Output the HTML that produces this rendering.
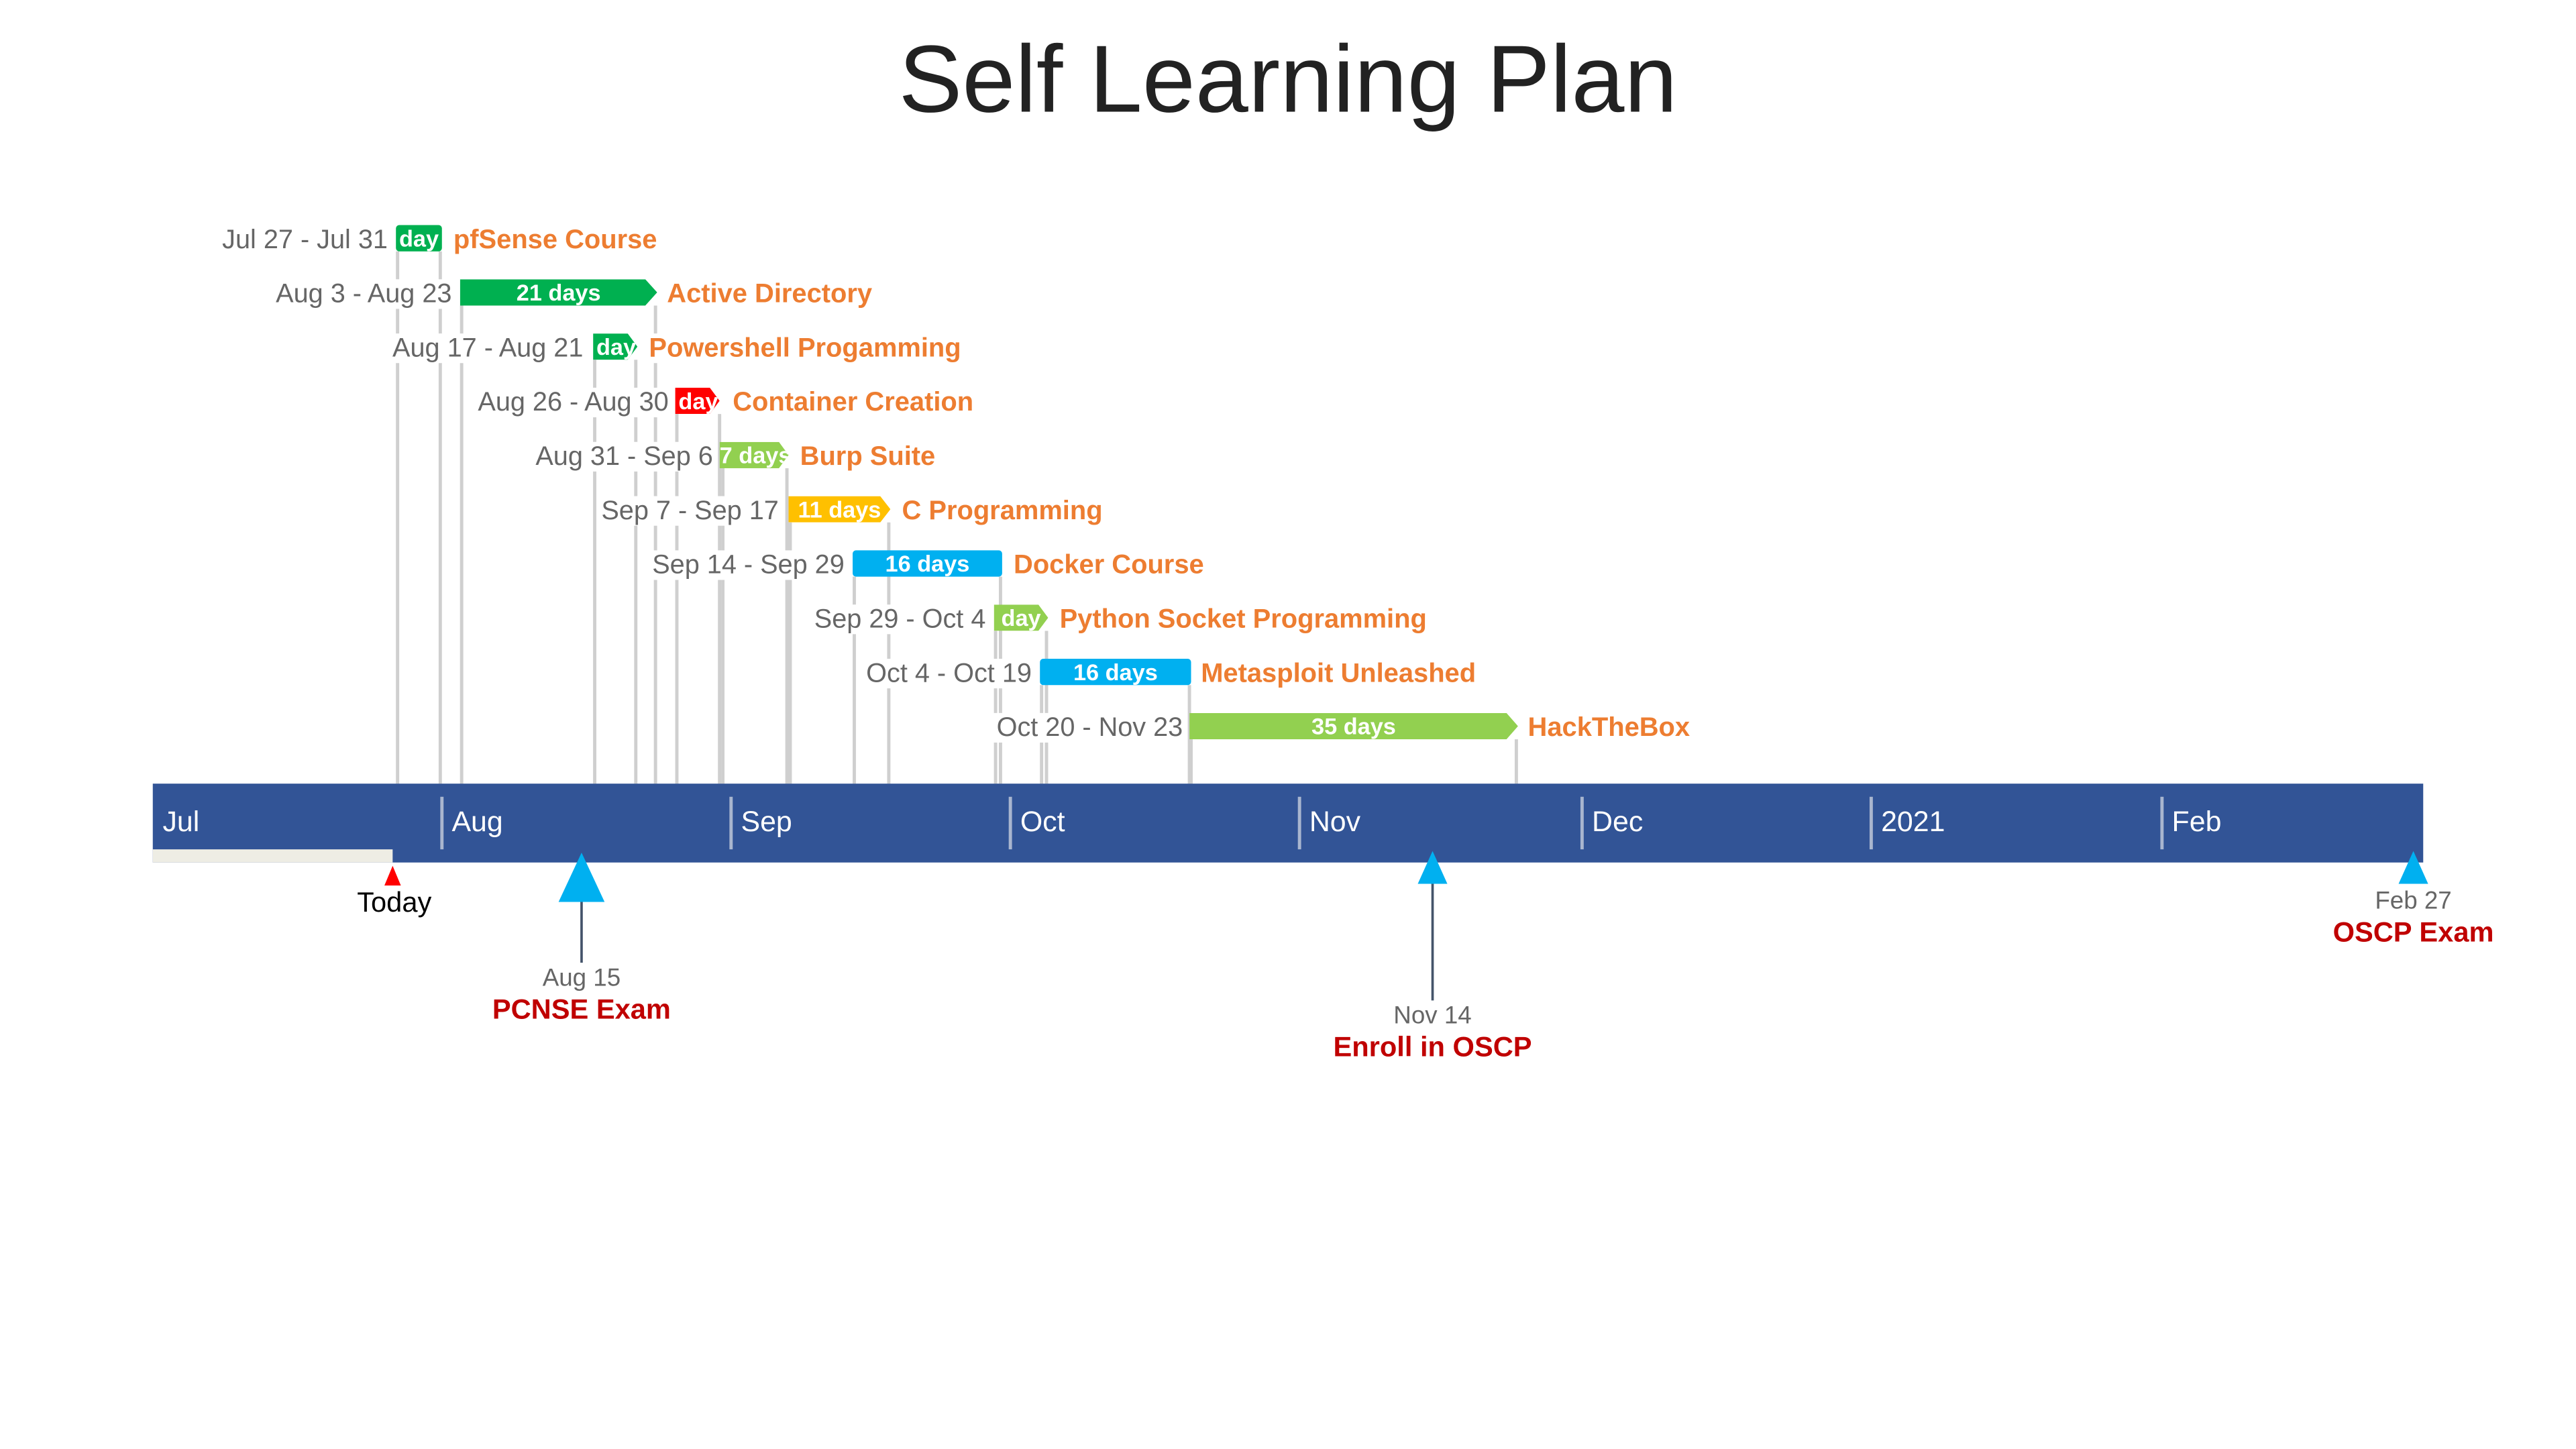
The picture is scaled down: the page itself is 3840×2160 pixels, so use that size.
<!DOCTYPE html>
<html><head><meta charset="utf-8">
<style>
html,body{margin:0;padding:0;background:#fff;width:3840px;height:2160px;overflow:hidden}
#s{position:absolute;left:0;top:0;width:1568px;height:882px;transform:scale(2.44898);transform-origin:0 0;font-family:"Liberation Sans",Arial,sans-serif}
.a{position:absolute}
.t{position:absolute;left:0;width:1568px;text-align:center;top:15px;font-size:58px;color:#222}
.vl{position:absolute;width:2px;background:#cfcfcf}
.d{position:absolute;font-size:16.2px;color:#666;white-space:nowrap;background:#fff;line-height:18px;padding-left:2px;transform:translateX(-100%)}
.n{position:absolute;font-size:16.3px;color:#ED7D31;font-weight:bold;white-space:nowrap;line-height:18px;background:#fff}
.b{position:absolute;height:16px;color:#fff;font-weight:bold;font-size:14px;line-height:16px;text-align:center;overflow:hidden;white-space:nowrap}
.band{position:absolute;left:93px;top:477px;width:1382px;height:48px;background:#325496}
.mt{position:absolute;top:485px;width:2px;height:32px;background:#a9b6cf}
.ml{position:absolute;top:490px;font-size:17.5px;color:#fff}
.md{position:absolute;font-size:15px;color:#666;text-align:center;width:200px;transform:translateX(-50%)}
.mn{position:absolute;font-size:17px;color:#C00000;font-weight:bold;text-align:center;width:300px;transform:translateX(-50%)}
</style></head><body><div id="s">
<div class="t">Self Learning Plan</div>

<div class="vl" style="left:241px;top:153px;height:324px"></div>
<div class="vl" style="left:267px;top:153px;height:324px"></div>
<div class="vl" style="left:280px;top:186px;height:291px"></div>
<div class="vl" style="left:398px;top:186px;height:291px"></div>
<div class="vl" style="left:361px;top:219px;height:258px"></div>
<div class="vl" style="left:386px;top:219px;height:258px"></div>
<div class="vl" style="left:411px;top:252px;height:225px"></div>
<div class="vl" style="left:437px;top:252px;height:225px"></div>
<div class="vl" style="left:439px;top:285px;height:192px"></div>
<div class="vl" style="left:478px;top:285px;height:192px"></div>
<div class="vl" style="left:480px;top:318px;height:159px"></div>
<div class="vl" style="left:540px;top:318px;height:159px"></div>
<div class="vl" style="left:519px;top:351px;height:126px"></div>
<div class="vl" style="left:608px;top:351px;height:126px"></div>
<div class="vl" style="left:605px;top:384px;height:93px"></div>
<div class="vl" style="left:636px;top:384px;height:93px"></div>
<div class="vl" style="left:633px;top:417px;height:60px"></div>
<div class="vl" style="left:723px;top:417px;height:60px"></div>
<div class="vl" style="left:724px;top:450px;height:27px"></div>
<div class="vl" style="left:922px;top:450px;height:27px"></div>

<div class="d" style="left:236px;top:137px">Jul 27 - Jul 31</div>
<div class="b" style="left:241px;top:137px;width:28px;background:#00B050;border-radius:2px">day</div>
<div class="n" style="left:276px;top:137px">pfSense Course</div>

<div class="d" style="left:275px;top:170px">Aug 3 - Aug 23</div>
<div class="b" style="left:280px;top:170px;width:120px;background:#00B050;clip-path:polygon(0 0,94% 0,100% 50%,94% 100%,0 100%)">21 days</div>
<div class="n" style="left:406px;top:170px">Active Directory</div>

<div class="d" style="left:355px;top:203px">Aug 17 - Aug 21</div>
<div class="b" style="left:361px;top:203px;width:27px;background:#00B050;clip-path:polygon(0 0,78% 0,100% 50%,78% 100%,0 100%);text-align:left;padding-left:2px;box-sizing:border-box">day</div>
<div class="n" style="left:395px;top:203px">Powershell Progamming</div>

<div class="d" style="left:407px;top:236px">Aug 26 - Aug 30</div>
<div class="b" style="left:411px;top:236px;width:27px;background:#FF0000;clip-path:polygon(0 0,78% 0,100% 50%,78% 100%,0 100%);text-align:left;padding-left:2px;box-sizing:border-box">day</div>
<div class="n" style="left:446px;top:236px">Container Creation</div>

<div class="d" style="left:434px;top:269px">Aug 31 - Sep 6</div>
<div class="b" style="left:438px;top:269px;width:42px;background:#92D050;clip-path:polygon(0 0,86% 0,100% 50%,86% 100%,0 100%)">7 days</div>
<div class="n" style="left:487px;top:269px">Burp Suite</div>

<div class="d" style="left:474px;top:302px">Sep 7 - Sep 17</div>
<div class="b" style="left:480px;top:302px;width:62px;background:#FFC000;clip-path:polygon(0 0,90% 0,100% 50%,90% 100%,0 100%)">11 days</div>
<div class="n" style="left:549px;top:302px">C Programming</div>

<div class="d" style="left:514px;top:335px">Sep 14 - Sep 29</div>
<div class="b" style="left:519px;top:335px;width:91px;background:#00B0F0;border-radius:2px">16 days</div>
<div class="n" style="left:617px;top:335px">Docker Course</div>

<div class="d" style="left:600px;top:368px">Sep 29 - Oct 4</div>
<div class="b" style="left:605px;top:368px;width:33px;background:#92D050;clip-path:polygon(0 0,82% 0,100% 50%,82% 100%,0 100%)">day</div>
<div class="n" style="left:645px;top:368px">Python Socket Programming</div>

<div class="d" style="left:628px;top:401px">Oct 4 - Oct 19</div>
<div class="b" style="left:633px;top:401px;width:92px;background:#00B0F0;border-radius:2px">16 days</div>
<div class="n" style="left:731px;top:401px">Metasploit Unleashed</div>

<div class="d" style="left:720px;top:434px">Oct 20 - Nov 23</div>
<div class="b" style="left:724px;top:434px;width:200px;background:#92D050;clip-path:polygon(0 0,96.5% 0,100% 50%,96.5% 100%,0 100%)">35 days</div>
<div class="n" style="left:930px;top:434px">HackTheBox</div>

<div class="band"></div>
<div class="a" style="left:93px;top:517px;width:146px;height:8px;background:#EEEDE4"></div>
<div class="ml" style="left:99px">Jul</div>
<div class="mt" style="left:268px"></div><div class="ml" style="left:275px">Aug</div>
<div class="mt" style="left:444px"></div><div class="ml" style="left:451px">Sep</div>
<div class="mt" style="left:614px"></div><div class="ml" style="left:621px">Oct</div>
<div class="mt" style="left:790px"></div><div class="ml" style="left:797px">Nov</div>
<div class="mt" style="left:962px"></div><div class="ml" style="left:969px">Dec</div>
<div class="mt" style="left:1138px"></div><div class="ml" style="left:1145px">2021</div>
<div class="mt" style="left:1315px"></div><div class="ml" style="left:1322px">Feb</div>

<svg class="a" style="left:0;top:0" width="1568" height="882">
<polygon points="239,527 244,539 234,539" fill="#FF0000"/>
<polygon points="354,519 368,549 340,549" fill="#00B0F0"/>
<line x1="354" y1="549" x2="354" y2="586" stroke="#44546A" stroke-width="1.5"/>
<polygon points="872,518 881,538 863,538" fill="#00B0F0"/>
<line x1="872" y1="538" x2="872" y2="609" stroke="#44546A" stroke-width="1.5"/>
<polygon points="1469,518 1478,538 1460,538" fill="#00B0F0"/>
</svg>
<div class="md" style="left:240px;top:540px;color:#000;font-size:17px">Today</div>
<div class="md" style="left:354px;top:587px">Aug 15</div>
<div class="mn" style="left:354px;top:605px">PCNSE Exam</div>
<div class="md" style="left:872px;top:610px">Nov 14</div>
<div class="mn" style="left:872px;top:628px">Enroll in OSCP</div>
<div class="md" style="left:1469px;top:540px">Feb 27</div>
<div class="mn" style="left:1469px;top:558px">OSCP Exam</div>
</div></body></html>
